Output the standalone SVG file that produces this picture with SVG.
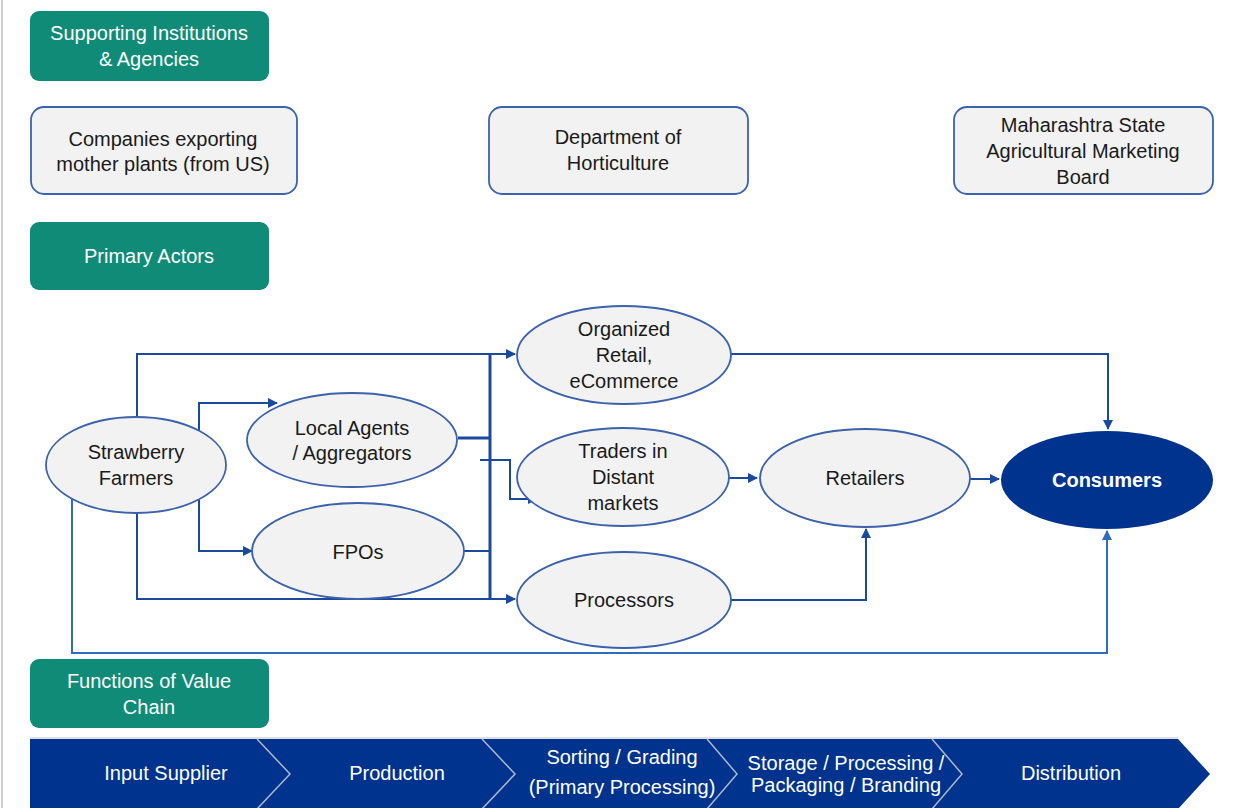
<svg xmlns="http://www.w3.org/2000/svg" width="1242" height="808" viewBox="0 0 1242 808">
<defs>
<style>
text{font-family:"Liberation Sans",Arial,sans-serif;font-size:20px;text-anchor:middle}
.hdr rect{fill:#0F8B77}
.hdr text{fill:#ffffff}
.box rect{fill:#F2F2F2;stroke:#3A63AE;stroke-width:1.8}
.box text,.ell text{fill:#1a1a1a}
.ell ellipse{fill:#F2F2F2;stroke:#3B62AA;stroke-width:1.8}
.con{fill:none;stroke:#1B4A9C;stroke-width:2}
.bus{fill:none;stroke:#1B4A9C;stroke-width:3}
.lt{fill:none;stroke:#2F6EBF;stroke-width:2}
.bar text{fill:#ffffff}
.sep{fill:none;stroke:#AEB8CC;stroke-width:1.5}
</style>
<marker id="ah" viewBox="0 0 10 10" refX="9" refY="5" markerWidth="5" markerHeight="5" orient="auto" markerUnits="strokeWidth">
<path d="M0,0 L10,5 L0,10 z" fill="#1B4A9C"/>
</marker>
<marker id="ah2" viewBox="0 0 10 10" refX="9" refY="5" markerWidth="5" markerHeight="5" orient="auto" markerUnits="strokeWidth">
<path d="M0,0 L10,5 L0,10 z" fill="#2F6EBF"/>
</marker>
</defs>
<rect x="0" y="0" width="1242" height="808" fill="#ffffff"/>
<line x1="2" y1="0" x2="2" y2="808" stroke="#D0D0D0" stroke-width="2"/>

<g id="hdr-supporting" class="hdr"><rect x="30" y="11" width="239" height="70" rx="9"/><text x="149" y="40">Supporting Institutions</text><text x="149" y="66">&amp; Agencies</text></g>
<g id="companies" class="box"><rect x="31" y="107" width="266" height="87" rx="13"/><text x="163" y="146">Companies exporting</text><text x="163" y="171">mother plants (from US)</text></g>
<g id="horticulture" class="box"><rect x="489" y="107" width="259" height="87" rx="13"/><text x="618" y="144">Department of</text><text x="618" y="170">Horticulture</text></g>
<g id="msamb" class="box"><rect x="954" y="107" width="259" height="87" rx="13"/><text x="1083" y="132">Maharashtra State</text><text x="1083" y="158">Agricultural Marketing</text><text x="1083" y="184">Board</text></g>
<g id="hdr-primary" class="hdr"><rect x="30" y="222" width="239" height="68" rx="9"/><text x="149" y="263">Primary Actors</text></g>

<g id="connectors">
<polyline class="con" points="137,417 137,354 515,354" marker-end="url(#ah)"/>
<polyline class="con" points="199,430 199,403 277,403" marker-end="url(#ah)"/>
<polyline class="con" points="199,500 199,551 252,551" marker-end="url(#ah)"/>
<polyline class="con" points="137,513 137,599 515,599" marker-end="url(#ah)"/>
<polyline class="lt" points="72,497 72,653 1107,653 1107,531" marker-end="url(#ah2)"/>
<line class="bus" x1="490" y1="354" x2="490" y2="599"/>
<polyline class="bus" points="458,438 490,438"/>
<polyline class="con" points="464,551 490,551"/>
<polyline class="con" points="480,460 510,460 510,499 537,499" marker-end="url(#ah)"/>
<polyline class="con" points="731,354 1108,354 1108,429" marker-end="url(#ah)"/>
<polyline class="con" points="729,478 757,478" marker-end="url(#ah)"/>
<polyline class="con" points="970,479 999,479" marker-end="url(#ah)"/>
<polyline class="con" points="731,600 866,600 866,529" marker-end="url(#ah)"/>
</g>

<g id="farmers" class="ell"><ellipse cx="136" cy="465" rx="90" ry="48"/><text x="136" y="459">Strawberry</text><text x="136" y="485">Farmers</text></g>
<g id="agents" class="ell"><ellipse cx="352" cy="440" rx="105" ry="47"/><text x="352" y="435">Local Agents</text><text x="352" y="460">/ Aggregators</text></g>
<g id="fpos" class="ell"><ellipse cx="358" cy="551" rx="106" ry="48"/><text x="358" y="559">FPOs</text></g>
<g id="organized" class="ell"><ellipse cx="624" cy="355" rx="107" ry="49"/><text x="624" y="336">Organized</text><text x="624" y="362">Retail,</text><text x="624" y="388">eCommerce</text></g>
<g id="traders" class="ell"><ellipse cx="623" cy="477" rx="106" ry="49"/><text x="623" y="458">Traders in</text><text x="623" y="484">Distant</text><text x="623" y="510">markets</text></g>
<g id="processors" class="ell"><ellipse cx="624" cy="600" rx="107" ry="48"/><text x="624" y="607">Processors</text></g>
<g id="retailers" class="ell"><ellipse cx="865" cy="478" rx="105" ry="49"/><text x="865" y="485">Retailers</text></g>
<g id="consumers"><ellipse cx="1107" cy="480" rx="106" ry="49" fill="#00338D"/><text x="1107" y="487" fill="#ffffff" font-weight="bold">Consumers</text></g>

<g id="hdr-functions" class="hdr"><rect x="30" y="659" width="239" height="69" rx="9"/><text x="149" y="688">Functions of Value</text><text x="149" y="714">Chain</text></g>

<g id="value-chain-bar" class="bar">
<line x1="30" y1="738" x2="1178" y2="738" stroke="#D5D5D5" stroke-width="1.5"/>
<polygon points="30,739 1178,739 1210,774 1178,809 30,809" fill="#00338D"/>
<polyline class="sep" points="257,739 290,774 257,809"/>
<polyline class="sep" points="482,739 515,774 482,809"/>
<polyline class="sep" points="707,739 737,774 707,809"/>
<polyline class="sep" points="932,739 962,774 932,809"/>
<text x="166" y="780">Input Supplier</text>
<text x="397" y="780">Production</text>
<text x="622" y="764">Sorting / Grading</text>
<text x="622" y="794">(Primary Processing)</text>
<text x="846" y="770">Storage / Processing /</text>
<text x="846" y="792">Packaging / Branding</text>
<text x="1071" y="780">Distribution</text>
</g>
</svg>
